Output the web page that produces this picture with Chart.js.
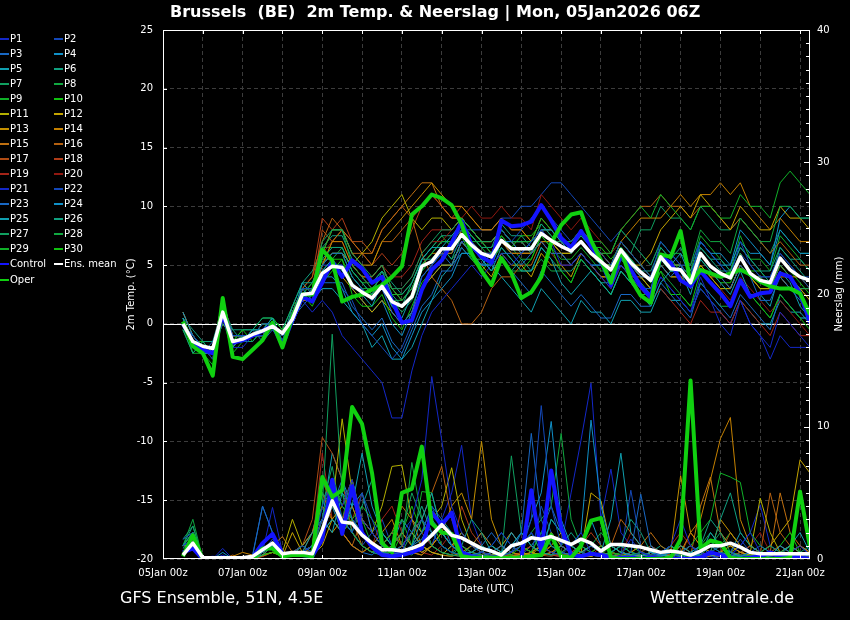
<!DOCTYPE html>
<html>
<head>
<meta charset="utf-8">
<title>Brussels (BE) 2m Temp. & Neerslag</title>
<script src="https://cdn.jsdelivr.net/npm/chart.js"></script>
<style>
  html, body { margin: 0; padding: 0; background: #000; }
  #wrap { position: relative; width: 850px; height: 620px; overflow: hidden; background: #000;
          font-family: 'DejaVu Sans', sans-serif; color: #fff; }
  #chart { position: absolute; left: 0; top: 0; }
  .txt { position: absolute; white-space: nowrap; }
  #title { left: 170px; top: 2px; font-weight: bold; font-size: 16px; line-height: 20px; }
  #src { left: 120px; top: 588px; font-size: 16px; line-height: 20px; }
  #site { left: 650px; top: 588px; font-size: 16px; line-height: 20px; }
  #rtitle { left: 789px; top: 288px; width: 100px; text-align: center; font-size: 10px; line-height: 12px;
            transform: rotate(-90deg); }
  #legend .item { position: absolute; font-size: 10px; line-height: 12px; white-space: nowrap; }
  #legend .sw { display: inline-block; width: 9px; height: 2px; vertical-align: middle; margin-right: 1px; }
</style>
</head>
<body>
<div id="wrap">
  <canvas id="chart" width="850" height="620"></canvas>
  <div id="title" class="txt">Brussels&nbsp; (BE)&nbsp; 2m Temp. &amp; Neerslag | Mon, 05Jan2026 06Z</div>
  <div id="src" class="txt">GFS Ensemble, 51N, 4.5E</div>
  <div id="site" class="txt">Wetterzentrale.de</div>
  <div id="rtitle" class="txt">Neerslag (mm)</div>
  <div id="legend"></div>
</div>
<script>
// forecast hours after 05Jan 00z (run 06Z, 6-hourly steps)
const hours = [12,18,24,30,36,42,48,54,60,66,72,78,84,90,96,102,108,114,120,126,132,138,144,150,156,162,168,174,180,186,192,198,
  204,210,216,222,228,234,240,246,252,258,264,270,276,282,288,294,300,306,312,318,324,330,336,342,348,354,360,366,372,378,384,390];
const dateLabels = ['05Jan 00z','07Jan 00z','09Jan 00z','11Jan 00z','13Jan 00z','15Jan 00z','17Jan 00z','19Jan 00z','21Jan 00z'];

// 2m temperature (°C)
const meanT = [0.0,-1.5,-1.9,-2.1,1.0,-1.5,-1.3,-0.9,-0.6,-0.2,-0.8,0.4,2.5,2.6,4.3,4.9,
  4.8,3.3,2.7,2.2,3.2,1.9,1.5,2.3,4.9,5.3,6.4,6.4,7.6,6.7,6.0,5.7,
  7.1,6.4,6.4,6.4,7.7,7.1,6.6,6.2,7.0,6.0,5.3,4.6,6.3,5.2,4.4,3.7,
  5.7,4.7,4.6,3.5,6.0,4.9,4.3,3.9,5.7,4.3,3.7,3.5,5.6,4.6,4.0,3.7];
const operT = [0.2,-1.9,-2.5,-4.4,2.2,-2.8,-3.0,-2.2,-1.4,0.1,-2.0,0.6,2.5,2.5,6.3,5.4,
  1.9,2.3,2.5,2.9,3.3,4.0,4.9,9.3,10.0,11.0,10.7,10.1,8.5,6.0,4.5,3.3,
  5.6,4.3,2.2,2.7,4.0,6.9,8.4,9.3,9.5,7.1,5.4,3.5,6.3,3.8,2.4,1.8,
  5.9,5.7,7.9,3.5,4.6,4.3,4.0,4.3,4.6,4.2,3.6,3.2,3.0,3.0,2.6,0.8];
const ctrlT = [0.0,-1.6,-2.2,-2.5,0.8,-1.6,-1.4,-1.0,-0.6,-0.1,-1.8,0.3,2.3,1.9,3.5,5.3,
  4.0,5.4,4.7,3.5,4.0,2.0,0.1,0.3,2.9,4.6,5.4,6.9,8.7,6.7,5.7,5.2,
  8.8,8.3,8.4,8.7,10.1,8.8,7.3,6.5,7.9,6.6,5.4,3.3,5.9,4.6,3.2,2.3,
  5.7,5.2,3.7,3.2,4.5,3.5,2.6,1.5,3.7,2.3,2.6,2.7,4.3,4.0,2.6,0.1];

const tempP1 = [0,-2,-2,-3,1,-2,-2,-1,-1,0,-1,0,2,1,2,1, -1,-2,-3,-4,-5,-8,-8,-4,-1,1,2,3,4,5,4,5, 6,5,6,7,8,7,5,5,6,5,4,3,5,4,3,2, 4,3,2,1,4,2,0,-1,2,0,-1,-2,1,0,-1,-2];
const tempP2 = [0,-1,-2,-2,1,-1,-1,-1,0,0,-1,1,3,3,4,5, 3,2,0,-1,-2,-3,-2,0,3,5,6,7,8,7,6,6, 8,7,8,9,10,9,8,7,8,7,6,5,7,6,5,4, 7,6,5,4,7,6,5,4,7,5,4,4,6,5,4,3];
const tempP3 = [0,-1,-2,-2,2,-1,-1,-1,-1,0,-1,0,2,3,5,6, 6,4,3,2,3,1,0,1,4,5,6,5,7,6,5,5, 6,6,5,6,7,6,6,5,6,5,5,4,5,4,3,3, 5,4,5,3,6,5,4,3,5,4,2,2,4,3,2,1];
const tempP4 = [1,-1,-2,-2,1,-2,-1,-1,-1,0,-1,0,3,2,4,4, 3,1,0,-1,0,-2,-3,-1,1,2,3,4,6,6,5,6, 7,7,6,7,8,8,7,6,7,6,5,4,6,5,4,4, 6,5,6,4,7,6,6,5,8,7,6,5,8,7,6,6];
const tempP5 = [0.5,-1.5,-2.5,-2.5,1.5,-1.5,-1.5,-0.5,-0.5,0.5,-1.5,0.5,3.5,2.5,4.5,5.5, 4.5,3.5,2.5,1.5,3.5,1.5,0.5,2.5,5.5,6.5,6.5,7.5,8.5,6.5,5.5,4.5, 6.5,5.5,4.5,4.5,6.5,5.5,3.5,2.5,3.5,4.5,3.5,2.5,4.5,3.5,2.5,1.5, 3.5,4.5,4.5,2.5,5.5,4.5,3.5,2.5,4.5,2.5,2.5,1.5,4.5,3.5,1.5,0.5];
const tempP6 = [-0.5,-2.5,-1.5,-2.5,0.5,-0.5,-1.5,-1.5,-0.5,0.5,-1.5,1.5,3.5,3.5,5.5,6.5, 6.5,4.5,3.5,2.5,4.5,2.5,1.5,3.5,5.5,5.5,6.5,5.5,7.5,6.5,5.5,4.5, 5.5,4.5,5.5,4.5,6.5,5.5,4.5,4.5,5.5,4.5,3.5,3.5,5.5,4.5,3.5,2.5, 5.5,4.5,4.5,3.5,6.5,5.5,4.5,4.5,6.5,5.5,4.5,3.5,6.5,5.5,4.5,3.5];
const tempP7 = [0,-1,-2,-2,0,-1,-1,-1,0,0,-1,0,2,3,7,8, 8,6,5,4,5,3,3,4,6,7,8,8,9,8,7,7, 8,7,7,6,8,7,7,6,7,6,5,5,7,6,5,4, 6,5,5,4,6,5,4,4,6,4,4,3,5,4,3,3];
const tempP8 = [0,-2,-2,-2,1,-2,-1,-1,-1,0,-1,1,3,3,6,8, 8,5,4,3,4,2,2,3,5,6,7,7,8,7,7,6, 8,7,7,7,8,8,7,7,8,7,6,6,8,7,6,5, 7,6,6,5,8,7,7,6,9,8,7,7,10,10,9,9];
const tempP9 = [0,-1,-2,-3,2,-2,-1,-1,0,0,-1,0,2,3,5,6, 6,4,3,3,4,3,2,3,5,6,7,7,9,8,7,6, 8,7,7,7,9,8,7,7,8,7,7,6,8,9,10,9, 11,10,9,8,10,10,9,9,11,10,10,9,12,13,12,11];
const tempP10 = [-0.5,-2.5,-1.5,-2.5,0.5,-1.5,-0.5,-1.5,-0.5,0.5,-0.5,0.5,2.5,1.5,3.5,4.5, 5.5,2.5,1.5,1.5,2.5,0.5,-0.5,1.5,3.5,4.5,5.5,6.5,7.5,5.5,4.5,5.5, 6.5,5.5,4.5,5.5,7.5,6.5,4.5,3.5,5.5,4.5,3.5,2.5,4.5,3.5,2.5,2.5, 4.5,2.5,2.5,1.5,4.5,3.5,2.5,1.5,3.5,2.5,1.5,0.5,2.5,1.5,0.5,-0.5];
const tempP11 = [0,-1,-2,-2,1,-1,-1,-1,0,0,-1,1,3,3,5,6, 6,5,6,7,9,10,11,9,8,9,9,8,9,8,7,7, 8,7,7,7,8,7,6,6,7,6,5,5,6,5,4,3, 5,4,4,3,5,4,3,3,5,4,3,3,4,3,3,2];
const tempP12 = [1,-1,-2,-2,1,-1,-1,-1,-1,0,-1,0,2,3,4,5, 4,3,2,1,2,1,0,1,3,4,5,5,7,6,5,4, 6,5,5,4,6,5,5,4,6,5,4,4,6,5,5,6, 8,9,10,9,11,10,9,8,10,9,8,8,10,9,9,8];
const tempP13 = [0,-2,-2,-2,0,-1,-1,-1,0,0,-1,0,3,3,6,8, 8,6,5,5,7,8,9,10,11,12,11,10,10,9,8,8, 9,8,8,7,9,8,7,7,8,7,6,5,7,6,5,4, 6,5,5,4,6,5,4,4,6,4,4,3,5,4,4,3];
const tempP14 = [0,-1,-2,-2,1,-2,-1,-1,-1,0,-1,0,2,3,5,7, 7,5,4,4,5,3,2,3,5,6,6,6,8,7,6,6, 7,6,6,6,7,7,6,6,7,6,6,5,7,8,9,9, 9,10,11,10,11,11,12,11,12,10,9,8,9,8,7,7];
const tempP15 = [0,-2,-2,-3,1,-2,-1,-1,-1,0,-1,0,2,2,5,7, 8,7,6,6,8,9,10,11,12,12,10,9,9,8,7,7, 8,7,6,6,7,6,6,5,6,5,4,4,5,4,4,3, 5,4,4,3,5,4,4,3,5,4,3,3,4,4,3,3];
const tempP16 = [0,-1,-2,-2,2,-1,-1,-1,0,0,-1,1,3,4,7,9, 8,6,6,5,7,7,8,9,6,4,3,2,0,0,1,3, 4,4,5,5,7,7,6,6,8,7,6,6,8,9,10,10, 11,10,10,9,10,10,9,8,9,8,7,6,7,6,5,5];
const tempP17 = [0,-2,-2,-2,1,-2,-1,-1,-1,0,-1,0,2,3,8,7, 8,7,7,6,8,9,10,9,10,11,10,9,9,8,7,7, 8,7,7,6,8,7,7,6,7,6,5,5,6,5,4,4, 6,5,4,4,5,4,3,3,5,4,3,3,5,4,3,3];
const tempP18 = [0,-1,-2,-2,1,-1,-1,-1,0,0,-1,0,3,4,9,8, 9,7,6,5,6,5,6,8,10,11,10,9,10,9,8,8, 9,8,8,7,8,8,7,6,7,6,5,4,6,5,4,4, 6,5,5,4,6,5,4,4,5,4,4,3,4,3,3,2];
const tempP19 = [0,-2,-2,-2,1,-2,-1,-1,-1,0,-1,0,2,3,5,6, 6,5,4,4,5,4,4,5,7,8,8,8,9,8,7,6, 7,6,6,6,7,6,5,5,6,5,4,3,5,4,3,2, 3,2,1,0,2,1,1,0,2,1,0,-1,1,0,-1,-1];
const tempP20 = [1,-1,-2,-2,2,-1,-1,-1,0,0,-1,1,3,3,6,7, 7,5,4,3,4,3,3,4,6,7,7,8,9,10,9,9, 10,9,9,8,11,10,9,8,9,8,7,6,7,6,5,4, 6,5,4,3,5,4,3,2,4,3,2,1,2,1,0,-1];
const tempP21 = [0,-2,-2,-2,1,-2,-1,-1,-1,0,-1,0,2,3,5,5, 5,3,3,2,3,1,0,1,4,5,6,6,7,7,6,6, 7,7,7,6,8,7,6,6,7,6,5,4,5,4,3,2, 4,3,2,1,3,2,1,0,2,0,-1,-3,-1,-2,-2,-2];
const tempP22 = [0,-1,-2,-2,1,-1,-1,-1,0,0,-1,1,3,3,5,6, 6,5,4,3,4,3,2,3,5,6,7,7,8,8,8,8, 9,9,10,10,11,12,12,11,10,9,8,7,8,7,6,5, 7,6,5,5,7,6,5,4,6,5,4,4,6,5,4,4];
const tempP23 = [0.5,-1.5,-2.5,-1.5,0.5,-1.5,-1.5,-0.5,-1.5,-0.5,-1.5,0.5,1.5,2.5,3.5,3.5, 3.5,1.5,0.5,-0.5,0.5,-1.5,-2.5,-0.5,1.5,2.5,4.5,4.5,6.5,5.5,4.5,3.5, 5.5,4.5,3.5,2.5,4.5,3.5,2.5,1.5,2.5,1.5,0.5,0.5,2.5,2.5,1.5,1.5, 3.5,2.5,1.5,0.5,3.5,2.5,1.5,0.5,2.5,1.5,0.5,-0.5,2.5,1.5,0.5,0.5];
const tempP24 = [0,-1,-2,-2,0,-1,-1,-1,0,0,-1,1,3,3,4,5, 5,3,2,1,2,0,-1,1,3,4,5,5,7,6,5,5, 7,6,6,6,7,7,6,5,6,5,5,4,6,5,4,3, 6,5,5,4,7,6,5,5,7,6,6,5,9,10,9,9];
const tempP25 = [0,-2,-2,-2,1,-2,-1,-1,-1,0,-1,0,2,2,3,3, 2,1,0,-2,-1,-3,-3,-2,0,2,4,5,6,6,5,5, 4,3,2,1,3,2,1,0,2,1,1,0,2,2,1,1, 3,2,2,1,3,2,1,0,2,1,0,0,2,1,1,0];
const tempP26 = [0.5,-0.5,-1.5,-1.5,1.5,-0.5,-0.5,-0.5,0.5,0.5,-0.5,1.5,3.5,4.5,6.5,7.5, 7.5,5.5,4.5,3.5,4.5,3.5,2.5,3.5,5.5,6.5,7.5,7.5,8.5,7.5,6.5,6.5, 8.5,7.5,7.5,6.5,8.5,7.5,6.5,6.5,7.5,6.5,5.5,4.5,6.5,5.5,4.5,4.5, 6.5,5.5,6.5,4.5,6.5,5.5,5.5,4.5,6.5,5.5,4.5,4.5,6.5,5.5,5.5,4.5];
const tempP27 = [0,-2,-2,-2,1,-2,-1,-1,-1,0,-1,0,2,3,5,6, 6,4,3,2,3,2,1,2,4,5,6,6,8,7,6,5, 7,6,6,6,8,7,7,6,7,6,5,5,7,6,8,8, 10,9,9,8,10,9,8,8,9,8,7,6,8,7,6,6];
const tempP28 = [0.5,-1.5,-2.5,-2.5,1.5,-1.5,-0.5,-0.5,-0.5,0.5,-0.5,0.5,2.5,3.5,4.5,5.5, 6.5,4.5,3.5,2.5,3.5,1.5,1.5,2.5,4.5,5.5,6.5,5.5,6.5,5.5,5.5,4.5, 5.5,4.5,4.5,4.5,5.5,4.5,4.5,3.5,5.5,4.5,3.5,2.5,4.5,3.5,2.5,2.5, 4.5,3.5,2.5,1.5,3.5,2.5,1.5,1.5,3.5,2.5,1.5,0.5,2.5,1.5,0.5,0.5];
const tempP29 = [0.5,-2.5,-2.5,-3.5,0.5,-2.5,-1.5,-0.5,-0.5,-0.5,-1.5,0.5,2.5,2.5,6.5,6.5, 6.5,4.5,3.5,3.5,4.5,2.5,2.5,3.5,5.5,6.5,7.5,6.5,8.5,7.5,6.5,5.5, 7.5,6.5,5.5,5.5,7.5,6.5,5.5,5.5,6.5,5.5,4.5,4.5,6.5,5.5,4.5,3.5, 6.5,5.5,4.5,4.5,7.5,6.5,5.5,4.5,7.5,5.5,5.5,4.5,7.5,6.5,5.5,4.5];
const tempP30 = [-0.5,-1.5,-1.5,-2.5,0.5,-1.5,-1.5,-0.5,0.5,0.5,-0.5,1.5,2.5,3.5,5.5,5.5, 5.5,3.5,2.5,2.5,3.5,1.5,1.5,2.5,4.5,5.5,6.5,6.5,7.5,7.5,6.5,6.5, 7.5,6.5,7.5,7.5,8.5,7.5,6.5,6.5,7.5,6.5,6.5,5.5,6.5,5.5,4.5,3.5, 5.5,4.5,4.5,3.5,5.5,4.5,3.5,3.5,5.5,4.5,4.5,3.5,5.5,4.5,3.5,2.5];

// neerslag, 6-hourly (mm)
const meanP = [0.3,1.2,0.1,0.1,0.1,0.1,0.1,0.2,0.7,1.2,0.4,0.5,0.5,0.4,2.2,4.4,
  2.8,2.7,1.8,1.2,0.7,0.7,0.6,0.8,1.1,1.8,2.6,1.8,1.6,1.2,0.8,0.6,
  0.3,1.0,1.2,1.6,1.5,1.7,1.4,1.1,1.5,1.2,0.6,1.1,1.1,1.0,0.9,0.7,
  0.5,0.6,0.5,0.3,0.6,1.0,1.0,1.2,0.9,0.5,0.4,0.4,0.4,0.4,0.4,0.4];
const operP = [0.2,1.8,0,0,0,0,0,0,0.8,0.8,0.2,0.3,0.3,0.2,6.2,4.7,
  5.2,11.5,10.2,6.5,1.2,0.5,5.0,5.3,8.5,2.7,2.0,1.9,0.2,0.1,0.1,0.1,
  0.1,0.1,0.1,0.2,0.3,1.8,0.2,0.1,1.0,2.9,3.1,0.1,0,0,0,0,
  0,0.1,1.5,13.5,0.8,1.4,1.2,0.1,0,0,0,0,0,0.1,5.1,0.9];
const ctrlP = [0.5,0.8,0,0.1,0,0,0,0.1,1.2,1.9,0.4,0.3,0.3,0.2,1.5,6.0,
  1.9,5.5,2.0,0.9,0.3,0.2,0.3,0.5,0.8,3.5,2.6,3.5,0.5,0.2,0.1,0.1,
  0.1,0,0,5.2,0.5,6.7,2.4,0.3,0.2,0.4,0.3,0.1,0.1,0.1,0,0.1,
  0,0,0,0,0.1,0.5,0.3,0.1,0,0.1,0.2,0.5,0.2,0.1,0.1,0];

const rainP1 = [1,1.5,0,0,0.3,0,0,0,0.5,1.5,0.5,0.3,0.5,1,3,5, 4,6,3,2,1,0.5,0.5,3,6,13.8,9,4,2,1,0.5,0.3, 0.2,0.5,1,2,1,0.5,0.3,1,2,0.5,0.2,0,0.3,1.5,0.5,0.2, 0.5,1,3,1,0.5,0.2,0,0.2,1,2,0.5,0.2,0.1,0.5,1,0.3];
const rainP2 = [1.5,2,0,0,0,0,0,0,1,2,0.3,0.5,1,0.5,4,6, 3,2,5,3,1,0.5,1,2,3,2,1,0.5,0.3,0.2,0.5,1, 2,1,0.5,3,11.6,4,1,0.5,0.3,1,0.5,0.2,0,0.2,0.5,0.3, 0.2,0,0.5,1,0.3,0,0,0.5,1.5,0.5,0.2,0,0,0.2,0.5,0];
const rainP3 = [0.5,1,0,0,0,0,0,0.2,4,2,0.5,0.2,0.3,0.5,2,4, 6,3,2,1,0.5,0.3,0.5,1,2,4,3,1,0.5,0.3,0.2,0.5, 1,0.5,2,9.5,3,1,0.5,0.3,0.2,0.5,0.3,0.2,0.1,0.5,4.9,1, 0.3,0.5,0.2,0,0.5,1,0.5,0.3,0.2,0.5,1,0.5,0.3,0.2,0.5,0.3];
const rainP4 = [1,1.5,0,0,0.5,0,0,0,0.8,1,0.3,0.2,0.5,1,2,3, 2,4,5,2,1,0.5,0.3,1,1.5,3,2,1,0.5,0.3,0.5,1, 0.5,2,1,3,5,10.4,3,1,2,10.5,4,1,0.5,0.3,0.2,0.5, 0.3,0.2,0,0.5,1,0.3,0,0,0.2,0.5,0.3,0.2,1,0.5,0.2,0.3];
const rainP5 = [0.8,1.5,0,0,0,0,0,0,0.5,1,0.3,0.5,0.5,2,3,2, 5,4,8,4,2,1,0.5,1,3,5,2,1,0.5,0.5,1,0.5, 0.3,1,2,1,0.5,3,2,1,0.5,1,0.5,3,8,2,1,0.5, 0.2,0.5,1,0.5,0.3,2,1,0.5,0.2,0,0.2,0.5,0.3,1,2,0.5];
const rainP6 = [1,2,0.2,0,0,0,0,0,0.3,1,0.2,0.3,1,0.5,1.5,5, 3,2,4,6,2,1,0.5,2,4,2,1,0.5,1,3,2,0.5, 0.3,0.5,1,2,0.5,0.3,1,2,1,0.5,0.3,0.5,1,3,2,0.5, 0.3,1,0.5,0.3,0.2,0.5,3,5,2,1,0.5,0.3,0.5,1,0.5,0.2];
const rainP7 = [1.5,2.5,0,0,0,0,0,0.2,1,2,0.3,0.5,0.5,1,4,17, 5,2,1,0.5,0.3,1,2,5,3,1,0.5,0.3,0.2,0.5,1,0.5, 0.3,7.8,2,1,0.5,0.3,0.5,1,0.5,0.3,0.2,0.5,1,0.5,0.3,0.2, 0.5,1,0.5,0.2,0.3,1,2,0.5,0.3,0.2,0.5,1,0.5,0.3,0.5,1];
const rainP8 = [1,3,0,0,0,0,0,0,0.5,1,0.3,0.2,0.3,0.5,3,6, 4,3,2,1,0.5,0.5,1,7.3,3,1,0.5,0.3,1,0.5,0.3,0.2, 0.5,1,0.5,2,3,4,9.5,3,1,0.5,0.3,0.2,0.5,1,0.5,0.3, 0.2,0.5,0.3,0.2,1,2,1,0.5,0.2,0.3,0.2,0.5,0.3,0.2,0.5,0.2];
const rainP9 = [1,2,0,0,0,0,0,0,0.5,1.5,0.5,0.3,0.5,1,5,4, 3,2,1,0.5,1,2,3,1,5.1,5,2,1,0.5,0.3,0.2,0.5, 0.3,0.5,1,0.5,2,1,0.5,0.3,0.2,0.5,0.3,1,0.5,0.3,0.5,0.2, 0.3,1,0.5,1,2,3,6.5,6.2,5.8,2,1,0.5,0.3,0.2,0.5,0.3];
const rainP10 = [0.5,1.5,0,0,0,0,0,0,0.3,0.5,0.2,0.3,0.5,1,2,3, 2,3,4,3,2,1,0.5,1,2,3,1,0.5,0.3,0.2,0.5,1, 0.5,0.3,1,0.5,2,1,0.5,0.3,0.2,0.5,1,0.5,0.3,0.2,0.5,0.3, 0.2,0.5,0.3,0.2,0.5,1,0.5,0.3,0.2,0.5,0.3,0.2,1,2,0.5,0.3];
const rainP11 = [1,1,0,0,0,0,0,0,0.5,1,0.5,3,1,0.5,2,4, 10.6,5,3,2,4,7,7.1,3,2,3,4,6.9,3,1,0.5,0.3, 0.5,1,0.5,0.3,1,2,1,0.5,0.3,0.2,0.5,1,0.5,0.3,0.2,0.5, 0.3,0.2,0.5,1,0.5,0.3,0.2,0.5,1,0.5,4.6,2,0.5,1,0.5,0.3];
const rainP12 = [0.5,1,0,0,0,0,0,0,0.3,0.5,0.2,2,0.5,0.3,1,3, 4,6,3,2,1,0.5,1,2,1,0.5,0.3,1,2,1,0.5,0.3, 0.2,0.5,1,0.5,0.3,1,2,1,0.5,5,4.4,1,0.5,0.3,0.2,0.5, 0.3,0.2,1,0.5,0.3,0.2,0.5,1,0.5,0.3,0.5,1,2,3,7.5,6.5];
const rainP13 = [0.5,1,0,0,0,0,0,0.3,0.5,1,0.5,0.3,0.5,1,3,2, 3,4,2,1,0.5,1,2,1,0.5,1,2,4,5,3,8.9,3, 1,0.5,0.3,0.5,1,0.5,0.3,0.2,0.5,1,0.5,0.3,0.2,0.5,1,0.5, 0.3,0.5,6.3,2,1,0.5,3,2,1,0.5,0.3,0.2,0.5,1,0.5,0.3];
const rainP14 = [0.3,1,0,0,0,0.2,0.5,0.3,0.5,1,0.3,0.5,1,2,4,3, 2,1,0.5,1,2,3,1,0.5,0.3,1,2,1,0.5,0.3,0.2,0.5, 1,2,1,0.5,0.3,0.5,1,0.5,0.3,0.2,0.5,1,0.5,0.3,0.2,0.5, 0.3,0.2,0.5,2,3,6,9.1,10.7,3,1,0.5,0.3,0.2,0.5,1,0.5];
const rainP15 = [0.5,1.5,0,0,0,0,0,0,0.3,1,1.7,0.5,0.3,1,3,5, 2,3,1,0.5,1,2,4,3,1,0.5,0.3,0.2,0.5,1,2,1, 0.5,0.3,0.2,0.5,1,0.5,0.3,0.2,0.5,1,0.5,0.3,0.2,0.5,1,2, 1,0.5,0.3,0.2,4,6.2,2,1,0.5,0.3,0.2,0.5,5,2,1,0.5];
const rainP16 = [0.3,1,0,0,0,0.3,0,0,0.2,0.5,0.3,0.2,0.5,2,5,3, 2,1,3,2,1,0.5,1,2,3,5,7,3,1,0.5,0.3,0.2, 0.5,1,0.5,0.3,0.2,0.5,1,0.5,0.3,0.2,0.5,1,3,2,1,0.5, 0.3,0.5,1,0.5,0.3,0.2,0.5,2,1,0.5,0.3,5,2,1,0.5,0.3];
const rainP17 = [0.5,1,0,0,0,0,0,0,0.3,0.5,0.3,0.5,1,3,9.2,8, 6,2,1,0.5,1,2,1,0.5,0.3,1,2,1,0.5,0.3,0.2,0.5, 1,0.5,0.3,0.2,0.5,1,0.5,0.3,0.2,0.5,1,0.5,0.3,0.2,0.5,0.3, 0.2,0.5,0.3,2,1,0.5,0.3,0.2,0.5,1,0.5,0.3,0.2,0.5,0.3,0.2];
const rainP18 = [1,2,0,0,0,0,0,0,0.5,1,0.3,0.2,0.5,1,6,4, 3,5,2,1,0.5,0.3,1,2,3,1,0.5,0.3,4,2,1,0.5, 0.3,0.2,0.5,1,0.5,0.3,0.2,0.5,1,2,1,0.5,0.3,0.2,0.5,1, 0.5,0.3,1,0.5,0.3,0.2,0.5,1,0.5,0.3,0.2,0.5,1,0.5,0.3,0.2];
const rainP19 = [0.5,1,0,0,0,0,0,0,0.2,0.5,0.3,0.2,0.5,1,8,3, 2,1,0.5,1,3,4,2,1,0.5,0.3,1,2,0.5,0.3,0.2,0.5, 0.3,0.2,0.5,1,0.5,0.3,0.2,0.5,0.3,0.2,1,0.5,0.3,0.2,0.5,0.3, 0.2,1,2,1,0.5,0.3,0.2,0.5,0.3,0.2,0.5,0.3,0.2,0.5,1,0.5];
const rainP20 = [0.3,1,0,0,0,0,0,0,0.3,0.5,0.2,0.3,0.5,1,2,3, 2,3,5,2,1,0.5,0.3,1,2,1,0.5,0.3,0.2,0.5,1,0.5, 0.3,0.5,1,0.5,0.3,0.2,0.5,1,0.5,0.3,0.2,0.5,0.3,2,1,0.5, 0.3,0.2,0.5,1,0.5,0.3,0.2,0.5,0.3,1,2,0.5,0.3,0.2,0.5,0.3];
const rainP21 = [1,2,0,0,0.8,0,0,0,0.5,3.9,0.5,0.3,0.5,1,2,4, 3,2,1,0.5,0.3,1,2,3,2,1,3,5,8.6,3,1,0.5, 0.3,0.5,1,2,0.5,0.3,1,5,9,13.3,3,6.8,2,1,0.5,0.3, 0.2,0.5,0.3,0.2,0.5,1,0.5,0.3,1,2,4.1,1,0.5,0.3,0.2,0.5];
const rainP22 = [1,1.5,0,0,0,0,0,0,0.3,1,0.3,0.2,0.5,1,3,5, 3,2,1,2,3,1,0.5,1,2,4,2,1,0.5,0.3,0.5,1, 2,1,0.5,0.3,4,2,1,0.5,0.3,0.5,1,0.5,0.3,5.2,1,0.5, 0.3,0.2,0.5,0.3,0.2,0.5,1,0.5,0.3,0.2,0.5,0.3,0.2,0.5,0.3,0.2];
const rainP23 = [0.5,1,0,0,0,0,0,0.3,4,2,0.5,0.3,0.5,1,3,4, 2,1,0.5,0.3,1,2,1,0.5,1,2,1,0.5,0.3,0.5,1,2, 1,0.5,0.3,1,2,4,2,1,0.5,0.3,0.2,0.5,1,0.5,0.3,0.2, 0.5,1,0.5,0.3,0.2,0.5,0.3,0.2,0.5,1,0.5,0.3,0.2,0.5,1,0.3];
const rainP24 = [1,2,0,0,0,0,0,0,0.5,1,0.3,0.5,1,2,5,4, 3,5,2,1,0.5,1,3,2,1,0.5,0.3,1,2,1,0.5,0.3, 0.5,1,2,1,0.5,0.3,0.2,0.5,1,3,1,0.5,0.3,0.2,0.5,1, 0.5,0.3,0.2,0.5,1,0.5,0.3,0.2,0.5,0.3,0.2,0.5,0.3,0.2,0.5,0.3];
const rainP25 = [1,2,0,0,0,0,0,0,0.5,1,0.3,0.5,0.5,1,3,8, 6,4,2,1,0.5,1,2,1,0.5,1,3,2,1,0.5,0.3,0.2, 0.5,1,0.5,0.3,0.2,0.5,1,0.5,0.3,0.2,0.5,1,0.5,0.3,0.2,0.5, 0.3,0.2,0.5,1,0.5,0.3,0.2,0.5,2,1,0.5,0.3,0.2,0.5,1,0.5];
const rainP26 = [1,2.5,0,0,0,0,0,0,0.5,1,0.3,0.2,0.3,0.5,2,6, 4,3,2,1,0.5,0.3,1,2,3,2,1,0.5,0.3,1,2,1, 0.5,0.3,0.2,0.5,1,2,1,0.5,0.3,0.2,0.5,1,0.5,0.3,0.2,0.5, 1,0.5,0.3,0.2,1,3,2,1,0.5,0.3,0.2,0.5,1,0.5,0.3,0.2];
const rainP27 = [1.5,2,0,0,0,0,0,0,0.3,0.5,0.3,0.5,1,2,4,7, 3,2,1,0.5,1,2,1,0.5,0.3,1,2,1,0.5,0.3,0.2,0.5, 1,2,1,0.5,0.3,3,2,1,0.5,0.3,0.2,0.5,1,0.5,0.3,0.2, 0.5,1,0.5,0.3,0.2,0.5,1,0.5,0.3,0.2,0.5,0.3,0.2,0.5,0.3,0.2];
const rainP28 = [1,1.5,0,0,0,0,0,0,0.5,1,0.3,0.2,0.5,1,6,4, 2,1,0.5,1,2,1,0.5,0.3,1,2,1,0.5,0.3,0.2,0.5,1, 0.5,0.3,0.2,0.5,1,0.5,0.3,0.2,0.5,1,2,1,0.5,0.3,0.2,0.5, 0.3,0.2,0.5,1,0.5,0.3,0.2,0.5,0.3,0.2,0.5,1,0.5,0.3,0.2,0.5];
const rainP29 = [1,2,0,0,0,0,0,0,0.5,1,0.5,0.3,0.5,1,2,5, 3,6,3,1,0.5,0.3,1,2,1,0.5,0.3,0.2,0.5,1,0.5,0.3, 0.2,0.5,1,0.5,0.3,0.2,0.5,1,0.5,0.3,0.2,0.5,1,0.5,0.3,0.2, 0.5,1,0.5,0.3,0.2,0.5,1,2,1,0.5,0.3,0.2,0.5,0.3,0.2,0.3];
const rainP30 = [0.5,1.5,0,0,0,0,0,0,0.3,0.5,0.2,0.3,0.5,1,3,4, 5,3,2,1,0.5,0.3,2,4,2,1,0.5,0.3,0.2,0.5,1,0.5, 0.3,0.2,0.5,1,2,1,0.5,0.3,0.2,0.5,1,0.5,0.3,0.2,0.5,1, 0.5,0.3,0.2,0.5,1,0.5,0.3,0.2,0.5,1,0.5,0.3,0.2,0.5,0.3,0.2];

const memberColors = ['#1428c8','#1448b8','#1868c4','#1090c8','#10a0b0','#10a080','#10a060','#10a840','#10b028','#10c010',
  '#b4b000','#c4a400','#c49000','#c48000','#c07010','#b46010','#b04c14','#b03c18','#a42418','#901810',
  '#1428c8','#1448b8','#1868c4','#1090c8','#10a0b0','#10a080','#10a060','#10a840','#10b028','#10c010'];
const ctrlColor = '#1414ff';
const operColor = '#10d010';
const meanColor = '#ffffff';

const tempMembers = [tempP1,tempP2,tempP3,tempP4,tempP5,tempP6,tempP7,tempP8,tempP9,tempP10,
  tempP11,tempP12,tempP13,tempP14,tempP15,tempP16,tempP17,tempP18,tempP19,tempP20,
  tempP21,tempP22,tempP23,tempP24,tempP25,tempP26,tempP27,tempP28,tempP29,tempP30];
const rainMembers = [rainP1,rainP2,rainP3,rainP4,rainP5,rainP6,rainP7,rainP8,rainP9,rainP10,
  rainP11,rainP12,rainP13,rainP14,rainP15,rainP16,rainP17,rainP18,rainP19,rainP20,
  rainP21,rainP22,rainP23,rainP24,rainP25,rainP26,rainP27,rainP28,rainP29,rainP30];

// legend (two columns, left of the plot)
const legend = document.getElementById('legend');
function addItem(name, color, col, row, top) {
  const d = document.createElement('div');
  d.className = 'item';
  d.style.left = (col === 0 ? 0 : 54) + 'px';
  d.style.top = (top !== undefined ? top : 33 + row * 15) + 'px';
  d.innerHTML = '<span class="sw" style="background:' + color + '"></span>' + name;
  legend.appendChild(d);
}
memberColors.forEach((c, i) => addItem('P' + (i + 1), c, i % 2, Math.floor(i / 2)));
addItem('Control', ctrlColor, 0, 15);
addItem('Ens. mean', meanColor, 1, 15);
addItem('Oper', operColor, 0, 0, 274);

function pts(vals) { return hours.map((h, i) => ({ x: h, y: vals[i] })); }
function line(label, vals, color, width, axis) {
  return {
    label: label, data: pts(vals), yAxisID: axis,
    borderColor: color, backgroundColor: color, borderWidth: width,
    pointRadius: 0, tension: 0, fill: false, borderJoinStyle: 'round'
  };
}

// first dataset is painted last (on top)
const datasets = [
  line('Ens. mean', meanT, meanColor, 3.5, 'y'),
  line('Ens. mean', meanP, meanColor, 3.5, 'y1'),
  line('Oper', operT, operColor, 4, 'y'),
  line('Oper', operP, operColor, 4, 'y1'),
  line('Control', ctrlT, ctrlColor, 4, 'y'),
  line('Control', ctrlP, ctrlColor, 4, 'y1')
];
tempMembers.forEach((m, i) => datasets.push(line('P' + (i + 1), m, memberColors[i], 1, 'y')));
rainMembers.forEach((m, i) => datasets.push(line('P' + (i + 1), m, memberColors[i], 1, 'y1')));

const frameAndTicks = {
  id: 'frameAndTicks',
  beforeDraw(chart) {
    const { ctx, width, height } = chart;
    ctx.save();
    ctx.fillStyle = '#000';
    ctx.fillRect(0, 0, width, height);
    ctx.restore();
  },
  beforeDatasetsDraw(chart) {
    const { ctx, chartArea: a, scales } = chart;
    const y0 = Math.round(scales.y.getPixelForValue(0)) + 0.5;
    ctx.save();
    ctx.strokeStyle = '#fff';
    ctx.lineWidth = 1;
    ctx.beginPath();
    ctx.moveTo(a.left, y0);
    ctx.lineTo(a.right, y0);
    ctx.stroke();
    ctx.restore();
  },
  afterDraw(chart) {
    const { ctx, chartArea: a, scales } = chart;
    ctx.save();
    ctx.strokeStyle = '#fff';
    ctx.lineWidth = 1;
    ctx.beginPath();
    for (let h = 24; h < 390; h += 24) {
      const x = Math.round(scales.x.getPixelForValue(h)) + 0.5;
      ctx.moveTo(x, a.top); ctx.lineTo(x, a.top + 4);
      ctx.moveTo(x, a.bottom); ctx.lineTo(x, a.bottom - 4);
    }
    for (let v = -15; v < 25; v += 5) {
      const y = Math.round(scales.y.getPixelForValue(v)) + 0.5;
      ctx.moveTo(a.left, y); ctx.lineTo(a.left + 4, y);
    }
    for (let v = 1; v < 40; v++) {
      const y = Math.round(scales.y1.getPixelForValue(v)) + 0.5;
      ctx.moveTo(a.right, y); ctx.lineTo(a.right - (v % 10 === 0 ? 6 : 4), y);
    }
    ctx.stroke();
    ctx.strokeRect(Math.round(a.left) + 0.5, Math.round(a.top) + 0.5,
                   Math.round(a.right - a.left) - 1, Math.round(a.bottom - a.top) - 1);
    ctx.restore();
  }
};

Chart.defaults.font.family = "'DejaVu Sans', sans-serif";
Chart.defaults.font.size = 10;
Chart.defaults.color = '#ffffff';

new Chart(document.getElementById('chart'), {
  type: 'line',
  data: { datasets: datasets },
  plugins: [frameAndTicks],
  options: {
    responsive: false,
    animation: false,
    events: [],
    normalized: true,
    layout: { padding: { left: 120, top: 30, right: 0, bottom: 0 } },
    plugins: { legend: { display: false }, tooltip: { enabled: false }, title: { display: false } },
    scales: {
      x: {
        type: 'linear', min: 0, max: 390,
        grid: { color: '#3c3c3c', drawTicks: false },
        border: { display: false, dash: [4, 3] },
        ticks: {
          stepSize: 24, includeBounds: false, autoSkip: false, maxRotation: 0, minRotation: 0, padding: 8,
          callback: v => (v % 48 === 0 ? dateLabels[v / 48] : '')
        },
        title: { display: true, text: 'Date (UTC)', padding: { top: 0, bottom: 25 } },
        afterFit: s => { s.height = 61; }
      },
      y: {
        position: 'left', min: -20, max: 25,
        grid: { color: '#3c3c3c', drawTicks: false },
        border: { display: false, dash: [4, 3] },
        ticks: { stepSize: 5, padding: 10 },
        title: { display: true, text: '2m Temp. (°C)', padding: { top: 5, bottom: 0 } },
        afterFit: s => { s.width = 43; }
      },
      y1: {
        position: 'right', min: 0, max: 40,
        grid: { display: false, drawTicks: false },
        border: { display: false },
        ticks: { stepSize: 10, padding: 7 },
        afterFit: s => { s.width = 40; }
      }
    }
  }
});
</script>
</body>
</html>
